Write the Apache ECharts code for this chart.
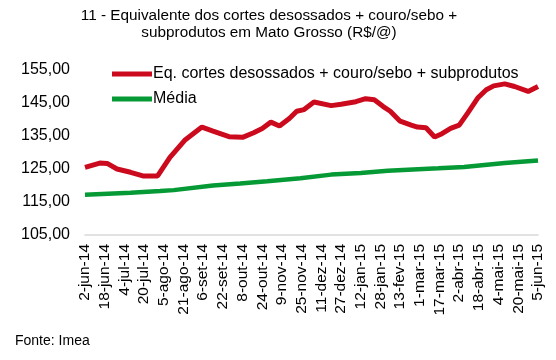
<!DOCTYPE html>
<html>
<head>
<meta charset="utf-8">
<script src="https://cdn.jsdelivr.net/npm/echarts@6/dist/echarts.min.js"></script>
<style>html,body{margin:0;padding:0;background:#fff}#c{width:556px;height:360px}</style>
</head>
<body>
<div id="c"></div>
<script>
// Tick labels every 16 days starting 2-jun-14 (x value = days since 2-jun-14)
var tickLabels = ['2-jun-14','18-jun-14','4-jul-14','20-jul-14','5-ago-14','21-ago-14','6-set-14','22-set-14','8-out-14','24-out-14','9-nov-14','25-nov-14','11-dez-14','27-dez-14','12-jan-15','28-jan-15','13-fev-15','1-mar-15','17-mar-15','2-abr-15','18-abr-15','4-mai-15','20-mai-15','5-jun-15'];

var redName = 'Eq. cortes desossados + couro/sebo + subprodutos';
var redDays   = [0,12,18,26,37,47,59,69,81,95,104,117,128,137,144,151,158,166,172,178,186,200,208,220,228,235,242,248,256,265,270,277,284,290,297,304,311,319,326,332,341,349,360,368];
var redValues = [125.5,126.8,126.7,125.0,124.0,122.9,122.9,128.5,133.7,137.7,136.5,134.8,134.6,136.0,137.3,139.2,138.0,140.3,142.5,143.0,145.3,144.2,144.6,145.4,146.3,146.0,144.0,142.5,139.5,138.3,137.7,137.5,134.7,135.7,137.3,138.3,142.0,146.5,149.0,150.2,150.8,150.0,148.5,150.0];

var avgName = 'Média';
var avgDays   = [0,37,61,72,104,126,148,175,200,224,246,287,308,341,368];
var avgValues = [117.2,117.8,118.3,118.6,120.0,120.6,121.3,122.2,123.3,123.8,124.5,125.2,125.6,126.8,127.6];

function pairs(xs, ys){ return xs.map(function(x,i){ return [x, ys[i]]; }); }

var FONT = '"Liberation Sans", Arial, sans-serif';
var chart = echarts.init(document.getElementById('c'), null, {renderer:'canvas'});
chart.setOption({
  animation: false,
  backgroundColor: '#fff',
  graphic: [
    {type:'text', x: 269, y: 7, style:{text:'11 - Equivalente dos cortes desossados + couro/sebo +\nsubprodutos em Mato Grosso (R$/@)', font:'15.3px ' + FONT, fill:'#000', align:'center', verticalAlign:'top', lineHeight:17}},
    {type:'text', x: 15, y: 334, style:{text:'Fonte: Imea', font:'14px ' + FONT, fill:'#000', verticalAlign:'top'}}
  ],
  legend: {
    orient: 'vertical', left: 107, top: 61, itemGap: 9, itemWidth: 40, itemHeight: 5,
    icon: 'rect',
    textStyle: {fontFamily: FONT, fontSize: 16, color: '#000', padding:[0,0,0,-4]},
    data: [redName, avgName]
  },
  grid: {left: 85, right: 18, top: 70, bottom: 125, containLabel: false},
  xAxis: {
    type: 'value', min: 0, max: 368, interval: 16,
    axisLine: {show: true, lineStyle: {color: '#d9d9d9', width: 1.5}},
    axisTick: {show: false},
    splitLine: {show: false},
    axisLabel: {
      rotate: 90, margin: 9, fontFamily: FONT, fontSize: 15.5, color: '#000',
      formatter: function(v){ return tickLabels[Math.round(v/16)] || ''; }
    }
  },
  yAxis: {
    type: 'value', min: 105, max: 155, interval: 10,
    axisLine: {show: false}, axisTick: {show: false},
    splitLine: {show: false},
    axisLabel: {
      margin: 15, fontFamily: FONT, fontSize: 16, color: '#000',
      formatter: function(v){ return v.toFixed(2).replace('.', ','); }
    }
  },
  series: [
    {name: redName, type: 'line', data: pairs(redDays, redValues), showSymbol: false, symbol:'none',
     itemStyle: {color: '#cc0a1e'}, lineStyle: {color: '#cc0a1e', width: 5}},
    {name: avgName, type: 'line', data: pairs(avgDays, avgValues), showSymbol: false, symbol:'none',
     itemStyle: {color: '#069a36'}, lineStyle: {color: '#069a36', width: 4.5}}
  ]
});
</script>
</body>
</html>
